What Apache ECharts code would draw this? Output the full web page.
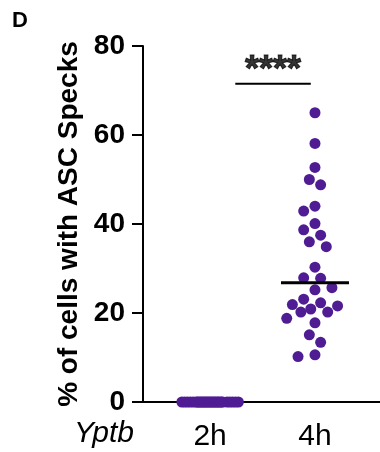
<!DOCTYPE html>
<html>
<head>
<meta charset="utf-8">
<script src="https://cdn.jsdelivr.net/npm/echarts@6/dist/echarts.min.js"></script>
<style>
  html, body { margin: 0; padding: 0; background: #fff; }
  #chart { width: 380px; height: 452px; }
</style>
</head>
<body>
<div id="chart"></div>
<script>
// ASC speck scatter dot plot (panel D)

const groups = ['2h', '4h'];
const vals2h = [0, 0, 0, 0, 0, 0, 0, 0, 0, 0,
                0, 0, 0, 0, 0, 0, 0, 0, 0, 0,
                0, 0, 0, 0, 0, 0, 0, 0, 0, 0];
const vals4h = [65, 58.1, 52.7, 50, 48.8, 44, 42.9, 40.1, 38.7, 37.5,
                36, 34.9, 30.3, 27.9, 27.8, 25.7, 25.2, 23.1, 22.3, 21.9,
                21.6, 20.9, 20.2, 20.2, 18.8, 17.8, 15.1, 13.4, 10.6, 10.2];
const centerLines = [0, 26.8];
const sigBar = { from: 1.24, to: 1.96, y: 71.5, text: '****' };

const purple = '#501c94';
const fontFam = '"Liberation Sans", Arial, sans-serif';

// layout of the plot area (px) and axis extents
const grid = { left: 143, right: 0, top: 46, bottom: 50 };
const xMin = 0.36, xMax = 2.62, yMin = 0, yMax = 80;
const plotW = 380 - grid.left - grid.right;
const plotH = 452 - grid.top - grid.bottom;
const pxX = plotW / (xMax - xMin);
const pxY = plotH / (yMax - yMin);

const dotSize = 11;
const colStep = 11.3;   // px between swarm columns
const minDist = 12.2;   // px, spacing check

function nearestDist(placed, c, v) {
  let d = Infinity;
  placed.forEach(p => {
    const dx = (c - p.c) * colStep, dy = (v - p.v) * pxY;
    d = Math.min(d, Math.sqrt(dx * dx + dy * dy));
  });
  return d;
}

// simple beeswarm: nearest free half-column, otherwise the least crowded spot
function swarm(values, xc) {
  const sorted = values.slice().sort((a, b) => b - a);
  const placed = [];
  const coarse = [0], fine = [0];
  for (let k = 1; k <= 5; k++) coarse.push(-k / 2, k / 2);
  for (let k = 1; k <= 20; k++) fine.push(-k / 8, k / 8);
  sorted.forEach(v => {
    let best = coarse.find(c => nearestDist(placed, c, v) >= minDist);
    if (best === undefined) {
      let bestD = -1;
      fine.forEach(c => {
        const d = nearestDist(placed, c, v);
        if (d > bestD) { bestD = d; best = c; }
      });
    }
    placed.push({ c: best, v: v });
  });
  return placed.map(p => [xc + p.c * colStep / pxX, p.v]);
}

const pts2h = swarm(vals2h, 1);
const pts4h = swarm(vals4h, 2);
const halfW = 34 / pxX;

const chart = echarts.init(document.getElementById('chart'));
chart.setOption({
  backgroundColor: '#fff',
  animation: false,
  grid: grid,
  xAxis: {
    type: 'value',
    min: xMin,
    max: xMax,
    splitLine: { show: false },
    axisTick: { show: false },
    axisLine: { lineStyle: { color: '#000', width: 2 } },
    axisLabel: {
      customValues: [1, 2],
      formatter: v => groups[Math.round(v) - 1] || '',
      color: '#000',
      fontSize: 30,
      fontFamily: fontFam,
      margin: 20
    }
  },
  yAxis: {
    type: 'value',
    min: yMin,
    max: yMax,
    interval: 20,
    name: '% of cells with ASC Specks',
    nameLocation: 'middle',
    nameGap: 60,
    nameTextStyle: { color: '#000', fontSize: 28, fontWeight: 'bold', fontFamily: fontFam },
    splitLine: { show: false },
    axisLine: { show: true, lineStyle: { color: '#000', width: 2 } },
    axisTick: { show: true, length: 11, lineStyle: { color: '#000', width: 2 } },
    axisLabel: { color: '#000', fontSize: 28, fontWeight: 'bold', fontFamily: fontFam, margin: 18 }
  },
  graphic: [
    { type: 'text', left: 12, top: 10,
      style: { text: 'D', fontSize: 22, fontWeight: 'bold', fontFamily: fontFam, fill: '#000' } },
    { type: 'text', left: 74, top: 419,
      style: { text: 'Yptb', fontSize: 30, fontStyle: 'italic', fontFamily: fontFam, fill: '#000' } }
  ],
  series: [
    {
      type: 'scatter', data: pts2h, symbolSize: dotSize, clip: false,
      itemStyle: { color: purple, opacity: 1 }, z: 3
    },
    {
      type: 'scatter', data: pts4h, symbolSize: dotSize, clip: false,
      itemStyle: { color: purple, opacity: 1 }, z: 3
    },
    {
      type: 'line', symbol: 'none', z: 5,
      data: [[2 - halfW, centerLines[1]], [2 + halfW, centerLines[1]]],
      lineStyle: { color: '#000', width: 3 }
    },
    {
      type: 'line', symbol: 'none', z: 5,
      data: [[sigBar.from, sigBar.y], [sigBar.to, sigBar.y]],
      lineStyle: { color: '#000', width: 2 }
    },
    {
      type: 'scatter', symbolSize: 0, z: 5, silent: true,
      data: [[(sigBar.from + sigBar.to) / 2, sigBar.y]],
      label: {
        show: true, position: 'top', distance: 0, offset: [0, 5],
        formatter: sigBar.text,
        color: '#000', fontSize: 36, fontWeight: 'bold', fontFamily: fontFam,
        textBorderColor: '#000', textBorderWidth: 1
      }
    }
  ]
});
</script>
</body>
</html>
